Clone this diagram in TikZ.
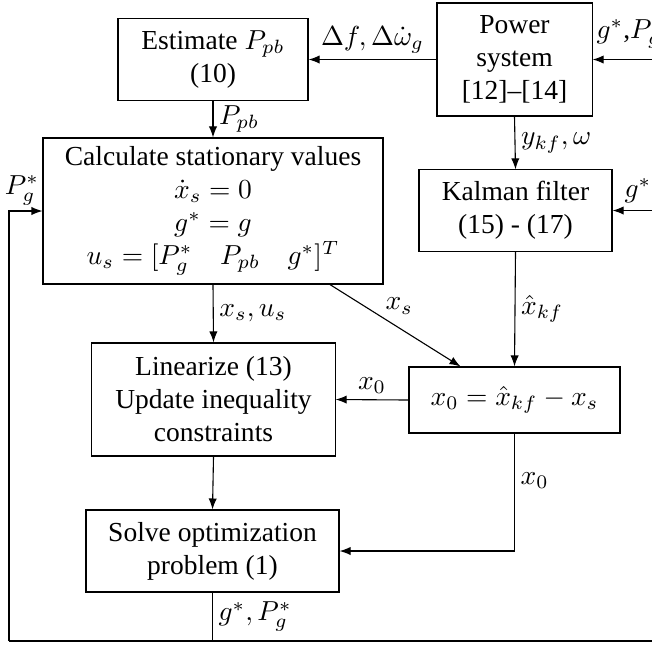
\documentclass[tikz,border=0pt]{standalone}
\usepackage{fontspec}
\setmainfont{Liberation Serif}
\usetikzlibrary{arrows.meta,calc}
\begin{document}
\begin{tikzpicture}[x=0.3636pt,y=-0.3636pt,
  box/.style={draw,align=center,inner sep=0pt},
  flow/.style={-{Latex[length=4pt,width=3pt]}},
  lbl/.style={inner sep=2pt}]
\useasboundingbox (0,0) rectangle (652,645);
% boxes
\node[box,minimum width=69.1pt,minimum height=29.5pt] (est) at (213,59.5) {Estimate $P_{pb}$\\(10)};
\node[box,minimum width=56.4pt,minimum height=41.1pt] (pow) at (514.5,59.5) {Power\\system\\{[12]}--[14]};
\node[box,minimum width=123.6pt,minimum height=53.1pt] (calc) at (213,211) {Calculate stationary values\\$\dot{x}_s=0$\\$g^*=g$\\$u_s=[P_g^*\quad P_{pb}\quad g^*]^T$};
\node[box,minimum width=70.2pt,minimum height=29.5pt] (kal) at (515.5,210.5) {Kalman filter\\(15) - (17)};
\node[box,minimum width=88.4pt,minimum height=41.1pt] (lin) at (213.5,399.5) {Linearize (13)\\Update inequality\\constraints};
\node[box,minimum width=76.7pt,minimum height=24pt] (xz) at (514.5,400) {$x_0=\hat{x}_{kf}-x_s$};
\node[box,minimum width=92pt,minimum height=29.8pt] (sol) at (212.5,551) {Solve optimization\\problem (1)};
% free ends
\coordinate (inpow) at (652,59.5);
\coordinate (inkal) at (652,210.5);
\coordinate (bl) at (9,641);
\coordinate (br) at (652,641);
% connectors
\draw[flow] (pow.west) -- node[lbl,above] (l1) {$\Delta f,\Delta\dot{\omega}_g$} (est.east);
\draw[flow] (inpow) -- (pow.east);
\node[anchor=base west,inner sep=0pt] (l2) at (596,38) {$g^*$,$P_g^*$};
\draw[flow] (est.south) -- node[lbl,right] (l3) {$P_{pb}$} (calc.north);
\draw[flow] (pow.south) -- node[lbl,right] (l4) {$y_{kf},\omega$} (kal.north);
\draw[flow] (inkal) -- (kal.east);
\node[anchor=base west,inner sep=0pt] (l5) at (624,197) {$g^*$};
\draw[flow] (kal.south) -- node[lbl,right] (l6) {$\hat{x}_{kf}$} (xz.north);
\draw[flow] (calc.south) -- node[lbl,right] (l7) {$x_s,u_s$} (lin.north);
\draw[flow] ($(calc.south)+(117,0)$) -- node[lbl,pos=0.4,above right,inner sep=1pt] (l8) {$x_s$} ($(xz.north)+(-54,0)$);
\draw[flow] (xz.west) -- node[lbl,above] (l9) {$x_0$} (lin.east);
\draw[flow] (lin.south) -- (sol.north);
\draw[flow] (xz.south) |- node[lbl,pos=0.2,right] (l10) {$x_0$} (sol.east);
\draw (sol.south) -- node[lbl,right] (l11) {$g^*,P_g^*$} (sol.south |- br);
\draw (br) -- (bl);
\draw[flow] (bl) |- (calc.west);
\node[anchor=south,inner sep=2pt] (l12) at (22,211) {$P_g^*$};
\end{tikzpicture}
\end{document}
